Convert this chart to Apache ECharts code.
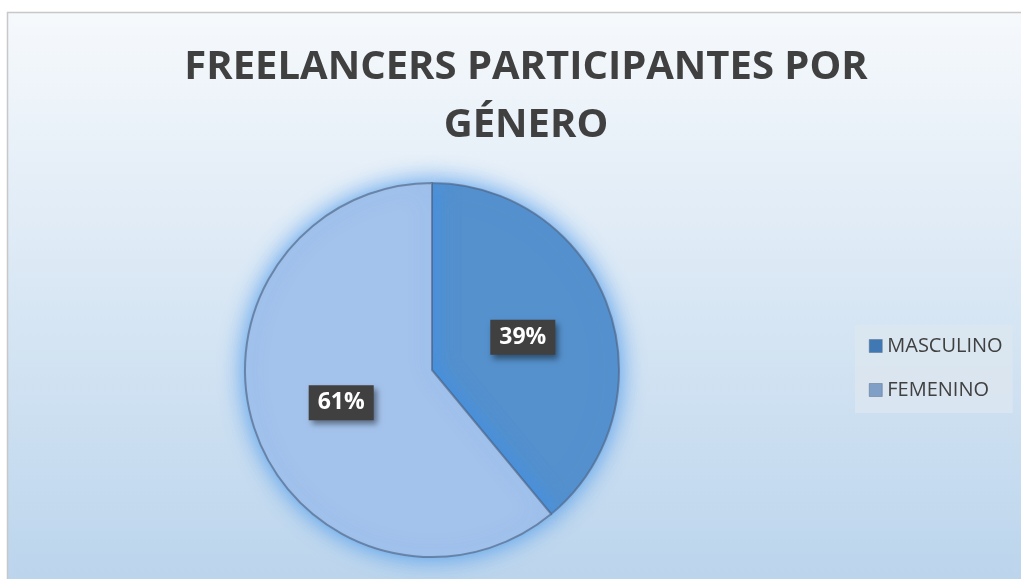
<!DOCTYPE html>
<html>
<head>
<meta charset="utf-8">
<script src="https://cdn.jsdelivr.net/npm/echarts@6/dist/echarts.min.js"></script>
<style>
  html, body { margin: 0; padding: 0; background: #fff; }
  #chart { width: 1021px; height: 579px; }
</style>
</head>
<body>
<div id="chart"></div>
<script>
const titleText = 'FREELANCERS PARTICIPANTES POR\nGÉNERO'
const categories = ['MASCULINO', 'FEMENINO']
const values = [39, 61]
const sliceColors = ['#5591cd', '#a4c3ec']
const legendIconColors = ['#3f78b3', '#7f9fc6']

const chart = echarts.init(document.getElementById('chart'))

chart.setOption({
  animation: false,
  graphic: [{
    type: 'rect',
    shape: { x: 7.5, y: 12.5, width: 1030, height: 580 },
    style: {
      fill: {
        type: 'linear', x: 0, y: 0, x2: 0, y2: 1,
        colorStops: [
          { offset: 0, color: '#f6f9fc' },
          { offset: 1, color: '#bad4ec' }
        ]
      },
      stroke: '#c8c8c8',
      lineWidth: 1.5
    },
    z: -10
  }],
  title: {
    text: titleText,
    left: 521,
    top: 34,
    textAlign: 'center',
    textStyle: {
      fontFamily: 'Open Sans',
      fontWeight: 'bold',
      fontSize: 40,
      lineHeight: 58,
      color: '#404040'
    }
  },
  legend: {
    orient: 'vertical',
    left: 855,
    top: 325,
    width: 166,
    padding: [11, 10, 13, 14],
    itemGap: 24,
    itemWidth: 13,
    itemHeight: 13,
    icon: 'rect',
    backgroundColor: 'rgba(218,229,240,0.9)',
    data: categories.map((name, i) => ({
      name: name,
      itemStyle: { color: legendIconColors[i], borderColor: '#5a6f88', borderWidth: 0.5 }
    })),
    textStyle: {
      fontFamily: 'Open Sans',
      fontSize: 20,
      color: '#404040',
      padding: [0, 0, 0, 0]
    }
  },
  color: sliceColors,
  series: [{
    type: 'pie',
    center: [432, 370],
    radius: 187,
    startAngle: 90,
    clockwise: true,
    itemStyle: {
      borderColor: 'rgba(80,100,130,0.65)',
      borderWidth: 2,
      shadowBlur: 24,
      shadowColor: 'rgba(60,145,235,0.9)'
    },
    label: {
      show: true,
      position: 'inside',
      formatter: '{d}%',
      fontFamily: 'Open Sans',
      fontWeight: 'bold',
      fontSize: 23,
      color: '#ffffff',
      backgroundColor: '#404040',
      padding: [7, 9, 5, 9],
      shadowBlur: 6,
      shadowOffsetX: 3,
      shadowOffsetY: 4,
      shadowColor: 'rgba(0,0,0,0.45)'
    },
    labelLine: { show: false },
    emphasis: { disabled: true },
    data: categories.map((name, i) => ({ name: name, value: values[i] }))
  }]
})
</script>
</body>
</html>
